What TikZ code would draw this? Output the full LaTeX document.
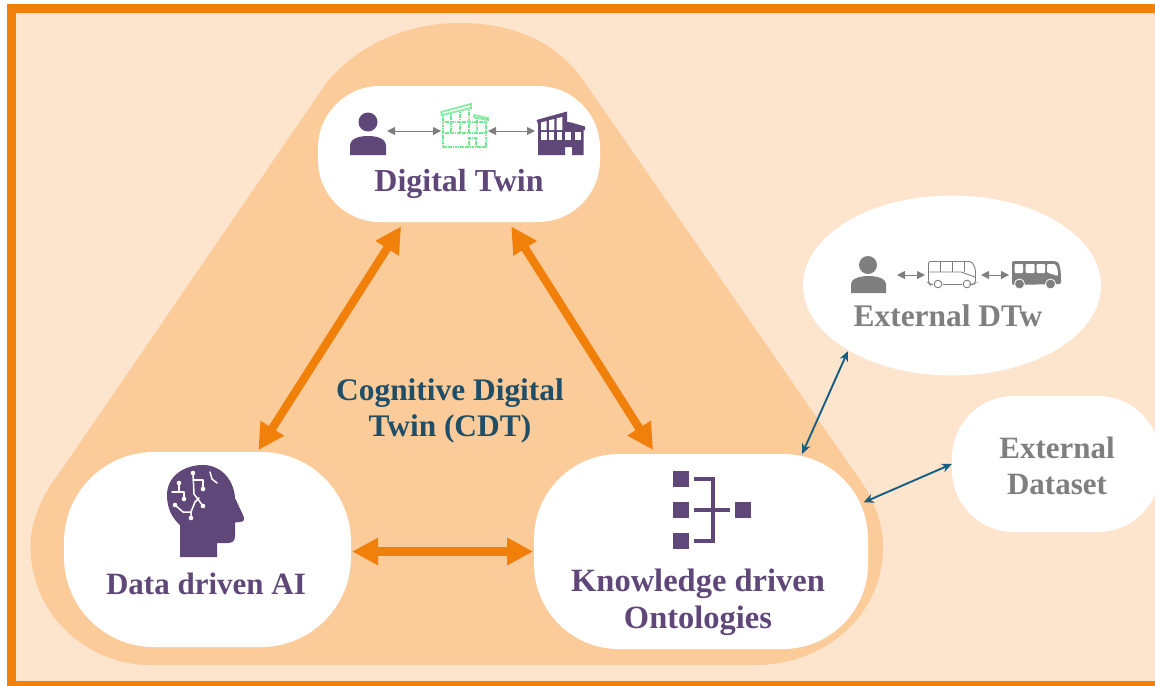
\documentclass[tikz,border=0pt]{standalone}
\usepackage{fontspec}
\setmainfont{Liberation Serif}
\usetikzlibrary{shapes.geometric,arrows.meta}
\definecolor{bgpeach}{HTML}{FDE4CD}
\definecolor{blobpeach}{HTML}{FBCB9A}
\definecolor{frameor}{HTML}{F0800A}
\definecolor{purp}{HTML}{5F4879}
\definecolor{teal2}{HTML}{1F4E66}
\definecolor{tealarrow}{HTML}{156082}
\definecolor{grayt}{HTML}{7F7F7F}
\definecolor{dotgreen}{HTML}{70E890}
\tikzset{
 x=1pt,y=-1pt,
 pill/.style={shape=rectangle,fill=white,draw=none,inner sep=0pt,rounded corners=#1},
 lab/.style={font=\bfseries\fontsize{#1}{36.5}\selectfont,align=center,inner sep=0pt},
 big/.style={line width=8.3pt,draw=frameor,{Triangle[length=26pt,width=26pt]}-{Triangle[length=26pt,width=26pt]}},
 thin2/.style={line width=1.9pt,draw=tealarrow,{Stealth[length=10pt,width=9pt]}-{Stealth[length=10pt,width=9pt]}},
 small/.style={line width=1pt,draw=grayt,{Triangle[length=8pt,width=8pt]}-{Triangle[length=8pt,width=8pt]}},
 circuit/.style={draw=white,line width=1.5pt,line cap=round,line join=round},
}
\begin{document}
\begin{tikzpicture}
\useasboundingbox (0,0) rectangle (1155,685);
\fill[white] (0,0) rectangle (1155,685);
\fill[bgpeach] (11,8) rectangle (1155,682);
\draw[frameor,line width=9pt] (1160,9) -- (11.7,9) -- (11.7,685.5) -- (1160,685.5);
% blob
\fill[blobpeach] (325,85) .. controls (352,50) and (400,23) .. (460,23)
 .. controls (510,23) and (555,40) .. (583,80)
 -- (853,470) .. controls (872,495) and (883,520) .. (883,547)
 .. controls (883,615) and (825,665) .. (755,665)
 -- (150,665) .. controls (85,665) and (30.5,612) .. (30.5,547)
 .. controls (30.5,520) and (42,495) .. (60,472) -- cycle;
% pills
\node[pill=62pt,minimum width=282pt,minimum height=136pt] (dt) at (459,154) {};
\node[pill=90pt,minimum width=287pt,minimum height=195pt] (ai) at (207.5,549.5) {};
\node[pill=85pt,minimum width=334pt,minimum height=195pt] (ko) at (701,551.5) {};
\node[shape=ellipse,fill=white,inner sep=0pt,minimum width=298pt,minimum height=180pt] (ext) at (952,285.5) {};
\node[pill=62pt,minimum width=208pt,minimum height=136pt] (ds) at (1056,464) {};
% connectors
\draw[big,shorten <=5pt,shorten >=2pt] (dt.-129.5) -- (ai.63);
\draw[big,shorten <=5pt,shorten >=4.5pt] (dt.-54.5) -- (ko.115.5);
\draw[big,shorten <=1pt,shorten >=0.7pt] (ko.west -| ai.east) -- (ko.west);
\draw[thin2,shorten <=1pt,shorten >=0pt] (ext.212) -- (ko.44);
\draw[thin2,shorten <=0pt,shorten >=-5pt] (ds.west) -- (ko.17.45);
% labels
\node[lab=32,text=purp] (tdt) at (459,184) {Digital Twin};
\node[lab=31,text=purp] (tai) at (206,583.5) {Data driven AI};
\node[lab=32.5,text=purp] (tko) at (698,602.5) {Knowledge driven\\Ontologies};
\node[lab=31.4,text=grayt] (tex) at (948,316) {External DTw};
\node[lab=31,text=grayt] (tds) at (1057,466) {External\\Dataset};
\node[lab=31.4,text=teal2] (tcd) at (450,411) {Cognitive Digital\\Twin (CDT)};
% DT icons
\fill[purp] (368,122) circle (9.5);
\fill[purp] (350,155) -- (350,146) .. controls (350,139) and (358,136) .. (368,136) .. controls (378,136) and (386,139) .. (386,146) -- (386,155) -- cycle;
\coordinate (a1) at (387,131); \coordinate (a2) at (441,131);
\coordinate (a3) at (488,131); \coordinate (a4) at (535,131);
\draw[small] (a1) -- (a2);
\draw[small] (a3) -- (a4);
\begin{scope}[draw=dotgreen,line width=1.8pt,dash pattern=on 1.2pt off 0.5pt]
\draw (441,112) -- (471,104) -- (471,108) -- (442,115) -- cycle;
\draw (474,115) -- (488,118) -- (488,120) -- (474,117.5) -- cycle;
\draw (443,116) -- (443,147) -- (486,147) -- (486,121);
\draw (443,122) -- (486,122);
\draw (443,133) -- (486,133);
\draw (451,114) -- (451,133);
\draw (460,112) -- (460,133);
\draw (469,110) -- (469,133);
\draw (477,118) -- (477,133);
\draw (469,147) -- (469,138) -- (476,138) -- (476,147);
\end{scope}
\fill[purp] (536.5,120) -- (567,111.5) -- (567,122) -- (571,122.5) -- (585,126.5) -- (585,130) -- (583.5,130) -- (583.5,155) -- (572,155) -- (572,147) -- (565,147) -- (565,155) -- (538,155) -- (538,124) -- cycle;
\fill[white] (541,122.5) -- (546.7,121) -- (546.7,130) -- (541,130) -- cycle;
\fill[white] (549,120.3) -- (554.3,119) -- (554.3,130) -- (549,130) -- cycle;
\fill[white] (556.7,118.3) -- (562.3,117) -- (562.3,130) -- (556.7,130) -- cycle;
\foreach \a/\b in {541/546.7,549/554.3,556.7/562.3,565/570.7,575/580.7}{\fill[white] (\a,132.3) rectangle (\b,140);}
% external icons
\fill[grayt] (868,265) circle (9);
\fill[grayt] (851,293) -- (851,284) .. controls (851,279) and (859,276) .. (868.5,276) .. controls (878,276) and (886,279) .. (886,284) -- (886,293) -- cycle;
\coordinate (b1) at (897,275); \coordinate (b2) at (925,275);
\coordinate (b3) at (981,275); \coordinate (b4) at (1009,275);
\draw[small] (b1) -- (b2);
\draw[small] (b3) -- (b4);
\draw[grayt,line width=0.9pt,rounded corners=2pt] (933,284.5) -- (930,284.5) -- (928.5,283) -- (928.5,261.5) -- (968,261.5) .. controls (973,262) and (975.5,268) .. (975.5,274) -- (975.5,283) -- (973,284.5) -- (972,284.5);
\draw[grayt,line width=0.9pt] (943,284.5) -- (962,284.5);
\draw[grayt,line width=0.9pt] (928.5,272) -- (961,272) -- (975,277);
\draw[grayt,line width=0.9pt] (940,261.5) -- (940,272) (952,261.5) -- (952,272) (964,261.5) -- (964,272);
\draw[grayt,line width=0.9pt] (938,284) circle (3.8) (967,284) circle (3.8);
\fill[grayt,rounded corners=2pt] (1012,261) -- (1056,261) .. controls (1060,264) and (1061,270) .. (1061,284) -- (1012,285) -- cycle;
\draw[white,line width=0.8pt,fill=grayt] (1019.5,284) circle (5) (1050.5,284) circle (5);
\fill[white,rounded corners=1pt] (1014.5,264) rectangle (1023,273);
\fill[white,rounded corners=1pt] (1025.5,264) rectangle (1034.5,273);
\fill[white,rounded corners=1pt] (1036.5,264) rectangle (1045,273);
\fill[white,rounded corners=1pt] (1047,264) -- (1054.5,264) .. controls (1057,266) and (1058,271) .. (1058,276) -- (1047,272.5) -- cycle;
% head
\fill[purp] (180,557) -- (180,525) .. controls (171,517) and (167,507) .. (167,495)
 .. controls (167,477) and (183,465) .. (203,465)
 .. controls (221,465) and (234,480) .. (235,498)
 -- (243,515) .. controls (245,519) and (244,522) .. (240,522)
 -- (235,522.5) -- (235,536) .. controls (235,541) and (232,543) .. (228,543)
 -- (217,543) -- (217,557) -- cycle;
\begin{scope}[circuit]
\draw (193,473) -- (194,494) -- (203,506);
\draw (193,480) -- (203,480) -- (203,489);
\draw (210,472) -- (212,479) -- (217,483);
\draw (172,492) -- (184,492) -- (184,499);
\draw (179,483) -- (179,492);
\draw (175,505) -- (183,512) -- (191,512) -- (191,518);
\draw (191,512) -- (195,502) -- (199,498);
\end{scope}
\fill[white] (193,473) circle (2.3) (203,489) circle (2.3) (203,506) circle (2.3) (184,499) circle (2.3) (179,483) circle (2.3) (191,518) circle (2.3) (175,505) circle (2.3);
% ontology icon
\fill[purp] (673.3,471) rectangle (689.3,487.3);
\fill[purp] (673.3,502) rectangle (689.3,518.3);
\fill[purp] (673.3,533) rectangle (689.3,549.3);
\fill[purp] (735,502) rectangle (751,518.3);
\draw[purp,line width=4pt] (694,479) -- (712.7,479) -- (712.7,541) -- (694,541);
\draw[purp,line width=4pt] (694,510) -- (730,510);
\end{tikzpicture}
\end{document}
